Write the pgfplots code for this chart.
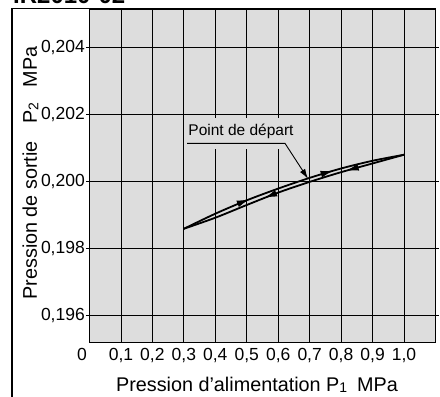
\documentclass[border=0pt]{standalone}
\usepackage{fontspec}
\setmainfont{Liberation Sans}
\usepackage{pgfplots}
\pgfplotsset{compat=1.18}
\usetikzlibrary{arrows.meta,decorations.markings}

\definecolor{bggray}{RGB}{221,221,221}

% 1 px of the reference = 1 pt here
\newcommand{\sub}[1]{{\fontsize{14}{14}\selectfont\raisebox{-1.5pt}{#1}}}
\newcommand{\tickfont}{\fontsize{17.5}{17.5}\selectfont}

\begin{document}
\begin{tikzpicture}
\begin{axis}[
  scale only axis,
  width=346pt, height=333pt,
  xmin=0, xmax=1.1,
  ymin=0.19522, ymax=0.20516,
  axis background/.style={fill=bggray},
  axis line style={line width=1pt},
  xtick={0.1,0.2,...,1.0},
  xticklabels={{0,1},{0,2},{0,3},{0,4},{0,5},{0,6},{0,7},{0,8},{0,9},{1,0}},
  extra x ticks={0},
  extra x tick labels={0},
  extra x tick style={xticklabel style={xshift=-7.5pt}},
  ytick={0.196,0.198,0.200,0.202,0.204},
  yticklabels={{0,196},{0,198},{0,200},{0,202},{0,204}},
  grid=major,
  major grid style={black, line width=0.8pt},
  x tick style={draw=none},
  ytick align=outside,
  y tick style={black, line width=0.8pt},
  major tick length=3.5pt,
  xticklabel style={font=\tickfont, inner sep=0pt, anchor=north, yshift=-6pt},
  yticklabel style={font=\tickfont, inner sep=0pt, anchor=east, xshift=-1pt},
  xlabel={Pression d'alimentation P\sub{1}\hspace{0.5em}MPa},
  ylabel={Pression de sortie\hspace{0.9em}P\sub{2}\hspace{0.75em}MPa},
  xlabel style={font=\fontsize{19.8}{19.8}\selectfont,
    at={(axis description cs:0.484,0)}, anchor=base, yshift=-49pt},
  ylabel style={font=\fontsize{19.8}{19.8}\selectfont,
    at={(axis description cs:0,0.507)}, anchor=base, yshift=52.5pt},
  clip=false,
]
% box behind the annotation hides the grid
\fill[bggray] (axis cs:0.318,0.20097) rectangle (axis cs:0.68,0.20192);
\node[font=\fontsize{15.5}{15.5}\selectfont, inner sep=0pt] at (axis cs:0.4817,0.2015) {Point de départ};
\draw[line width=0.9pt, -{Latex[length=10pt,width=6pt]}]
  (axis cs:0.310,0.201149) -- (axis cs:0.6216,0.201149) -- (axis cs:0.6948,0.20009);

% rising branch
\addplot[black, line width=1.8pt, smooth,
  postaction={decorate},
  decoration={markings,
    mark=at position 0.31 with {\arrow{Latex[length=13pt,width=7pt]}},
    mark=at position 0.69 with {\arrow{Latex[length=13pt,width=7pt]}}}]
coordinates {
  (0.30,0.19860) (0.40,0.19905) (0.50,0.19945) (0.60,0.19980)
  (0.70,0.20012) (0.80,0.20040) (0.90,0.20063) (1.00,0.20081)
};
% falling branch
\addplot[black, line width=1.8pt, smooth,
  postaction={decorate},
  decoration={markings,
    mark=at position 0.26 with {\arrow{Latex[length=13pt,width=7pt]}},
    mark=at position 0.63 with {\arrow{Latex[length=13pt,width=7pt]}}}]
coordinates {
  (1.00,0.20081) (0.90,0.20055) (0.80,0.20029) (0.70,0.20000)
  (0.60,0.19968) (0.50,0.19931) (0.40,0.19893) (0.30,0.19860)
};
\end{axis}
% outer frame and cropped title
\draw[line width=1.2pt] (-77.5pt,-70pt) -- (-77.5pt,333.5pt) -- (346pt,333.5pt);
\node[anchor=base west, inner sep=0pt, font=\bfseries\fontsize{24}{24}\selectfont] at (-76.5pt,338pt) {IR2010-02};
\pgfresetboundingbox
\useasboundingbox (-89.5pt,-55pt) rectangle (350.5pt,342pt);
\end{tikzpicture}
\end{document}
